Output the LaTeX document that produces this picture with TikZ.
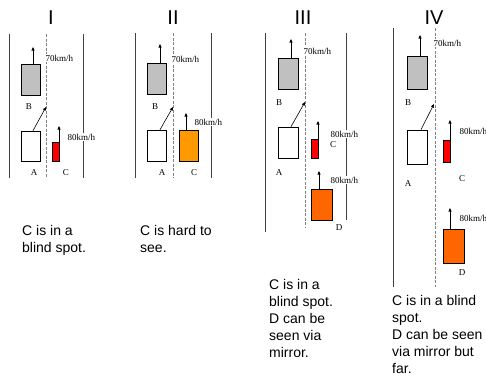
\documentclass[tikz,border=0pt]{standalone}
\usepackage{fontspec}
\setmainfont{Liberation Serif}
\setsansfont{Liberation Sans}
\usetikzlibrary{arrows.meta}

\definecolor{cargray}{HTML}{C0C0C0}
\definecolor{carred}{HTML}{FF0000}
\definecolor{caramber}{HTML}{FF9900}
\definecolor{carorange}{HTML}{FF6600}
\definecolor{roadgray}{HTML}{404040}

\begin{document}
\begin{tikzpicture}[
  x=1pt, y=-1pt,
  car/.style={draw, line width=0.7pt, inner sep=0pt, minimum width=19pt, minimum height=31pt},
  road/.style={draw=roadgray, line width=1pt},
  lane/.style={draw=gray, dash pattern=on 3pt off 1.5pt, line width=0.6pt},
  speed/.style={font=\fontsize{9}{9}\selectfont, fill=white, inner sep=0.5pt, anchor=west},
  tag/.style={font=\fontsize{9}{9}\selectfont, inner sep=0pt},
  title/.style={font=\sffamily\fontsize{20}{20}\selectfont, anchor=base, inner sep=0pt},
  note/.style={font=\sffamily\fontsize{14}{17}\selectfont, align=left, anchor=base west, inner sep=0pt},
  arrow/.style={-{Triangle[length=3.5pt,width=3pt]}, line width=0.6pt}
]
  \useasboundingbox (0,0) rectangle (486,376);

  % panel I
  \node[title] (tI) at (51,24) {I};
  \draw[road] (9,34) -- (9,178);
  \draw[lane] (46,34) -- (46,178);
  \draw[road] (83,34) -- (83,178);
  \node[car, fill=cargray] (bI) at (30.5,79.5) {};
  \node[car, minimum height=30pt] (aI) at (30.5,146) {};
  \node[car, fill=carred, minimum width=7pt, minimum height=19pt] (cI) at (55.5,151.5) {};
  \coordinate (bIv) at (33,47);
  \coordinate (aIv) at (46,107);
  \coordinate (cIv) at (59,126);
  \draw[arrow] (bIv |- bI.north) -- (bIv);
  \draw[arrow] ([xshift=2.5pt]aI.north) -- (aIv);
  \draw[arrow] (cIv |- cI.north) -- (cIv);
  \node[speed] (sbI) at (45,58) {70km/h};
  \node[speed] (scI) at (67,137) {80km/h};
  \node[tag] (lbI) at (29,107) {B};
  \node[tag] (laI) at (34,173) {A};
  \node[tag] (lcI) at (66,173) {C};
  % notes sit on the baseline of their last line
  \node[note] (nI) at (22,252) {C is in a\\blind spot.};

  % panel II
  \node[title] (tII) at (173,24) {II};
  \draw[road] (135,33) -- (135,178);
  \draw[lane] (173,33) -- (173,178);
  \draw[road] (211,33) -- (211,178);
  \node[car, fill=cargray] (bII) at (156.5,78.5) {};
  \node[car] (aII) at (156.5,145.5) {};
  \node[car, fill=caramber] (cII) at (188.5,145.5) {};
  \coordinate (bIIv) at (160,44);
  \coordinate (aIIv) at (173,107);
  \coordinate (cIIv) at (186,113);
  \draw[arrow] (bIIv |- bII.north) -- (bIIv);
  \draw[arrow] ([xshift=3.5pt]aII.north) -- (aIIv);
  \draw[arrow] (cIIv |- cII.north) -- (cIIv);
  \node[speed] (sbII) at (171,59) {70km/h};
  \node[speed] (scII) at (194,122) {80km/h};
  \node[tag] (lbII) at (155,107) {B};
  \node[tag] (laII) at (162,173) {A};
  \node[tag] (lcII) at (194,173) {C};
  \node[note] (nII) at (140,252) {C is hard to\\see.};

  % panel III
  \node[title] (tIII) at (303,24) {III};
  \draw[road] (265,33) -- (265,232);
  \draw[lane] (305,33) -- (305,227);
  \draw[road] (346,33) -- (346,220);
  \node[car, fill=cargray, minimum width=20pt] (bIII) at (288,73.5) {};
  \node[car, minimum width=20pt] (aIII) at (288,142.5) {};
  \node[car, fill=carred, minimum width=7pt, minimum height=19pt] (cIII) at (314.5,148.5) {};
  \node[car, fill=carorange, minimum width=21pt] (dIII) at (321.5,204.5) {};
  \coordinate (bIIIv) at (291,39);
  \coordinate (aIIIv) at (305,102);
  \coordinate (cIIIv) at (318,121);
  \coordinate (dIIIv) at (319,171);
  \draw[arrow] (bIIIv |- bIII.north) -- (bIIIv);
  \draw[arrow] ([xshift=3pt]aIII.north) -- (aIIIv);
  \draw[arrow] (cIIIv |- cIII.north) -- (cIIIv);
  \draw[arrow] (dIIIv |- dIII.north) -- (dIIIv);
  \node[speed] (sbIII) at (303,51) {70km/h};
  \node[speed] (scIII) at (330,134) {80km/h};
  \node[speed] (sdIII) at (330,180) {80km/h};
  \node[tag] (lbIII) at (279,103) {B};
  \node[tag] (laIII) at (279,173) {A};
  \node[tag] (lcIII) at (333,145) {C};
  \node[tag] (ldIII) at (339,228) {D};
  \node[note] (nIII) at (269,357) {C is in a\\blind spot.\\D can be\\seen via\\mirror.};

  % panel IV
  \node[title] (tIV) at (434,24) {IV};
  \draw[road] (393,28) -- (393,287);
  \draw[lane] (435,28) -- (435,287);
  \node[car, fill=cargray, minimum width=20pt, minimum height=33pt] (bIV) at (417,72.5) {};
  \node[car, minimum width=20pt, minimum height=34pt] (aIV) at (417,147) {};
  \node[car, fill=carred, minimum width=7pt, minimum height=22pt] (cIV) at (446.5,151) {};
  \node[car, fill=carorange, minimum width=21pt, minimum height=34pt] (dIV) at (453.5,246) {};
  \coordinate (bIVv) at (420,35);
  \coordinate (aIVv) at (434,104);
  \coordinate (cIVv) at (450,120);
  \coordinate (dIVv) at (450,208);
  \draw[arrow] (bIVv |- bIV.north) -- (bIVv);
  \draw[arrow] ([xshift=4pt]aIV.north) -- (aIVv);
  \draw[arrow] (cIVv |- cIV.north) -- (cIVv);
  \draw[arrow] (dIVv |- dIV.north) -- (dIVv);
  \node[speed] (sbIV) at (433,43) {70km/h};
  \node[speed] (scIV) at (459,131) {80km/h};
  \node[speed] (sdIV) at (459,218) {80km/h};
  \node[tag] (lbIV) at (408,103) {B};
  \node[tag] (laIV) at (408,184) {A};
  \node[tag] (lcIV) at (462,179) {C};
  \node[tag] (ldIV) at (462,273) {D};
  \node[note] (nIV) at (392,373) {C is in a blind\\spot.\\D can be seen\\via mirror but\\far.};
\end{tikzpicture}
\end{document}
